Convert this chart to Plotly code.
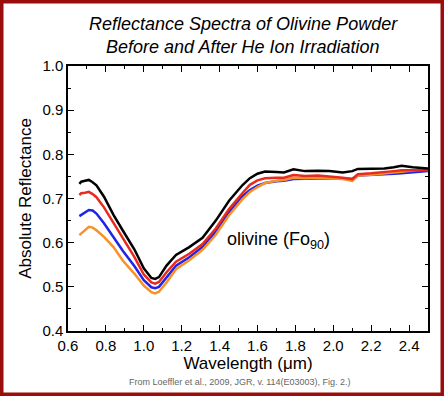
import plotly.graph_objects as go

wavelength = [0.66, 0.67, 0.69, 0.71, 0.73, 0.75, 0.79, 0.84, 0.89, 0.95, 1.00, 1.04, 1.06, 1.08,
              1.12, 1.17, 1.24, 1.31, 1.38, 1.45, 1.52, 1.56, 1.60, 1.64, 1.70, 1.74, 1.79, 1.85,
              1.92, 1.98, 2.05, 2.10, 2.13, 2.20, 2.27, 2.32, 2.36, 2.42, 2.50]

black = [0.733, 0.738, 0.740, 0.742, 0.737, 0.730, 0.704, 0.663, 0.627, 0.585, 0.542, 0.520, 0.518, 0.522,
         0.548, 0.572, 0.590, 0.611, 0.650, 0.695, 0.730, 0.746, 0.756, 0.761, 0.760, 0.759, 0.766, 0.762,
         0.763, 0.762, 0.759, 0.762, 0.767, 0.767, 0.768, 0.771, 0.774, 0.771, 0.768]

red = [0.708, 0.712, 0.713, 0.715, 0.710, 0.703, 0.680, 0.645, 0.608, 0.568, 0.528, 0.510, 0.507, 0.511,
       0.533, 0.557, 0.575, 0.597, 0.632, 0.676, 0.712, 0.731, 0.741, 0.746, 0.747, 0.747, 0.753, 0.751,
       0.752, 0.750, 0.747, 0.744, 0.755, 0.757, 0.759, 0.762, 0.764, 0.764, 0.764]

blue = [0.660, 0.663, 0.668, 0.674, 0.673, 0.666, 0.644, 0.612, 0.581, 0.547, 0.515, 0.499, 0.497, 0.500,
        0.521, 0.548, 0.567, 0.590, 0.625, 0.669, 0.705, 0.719, 0.729, 0.735, 0.739, 0.740, 0.744, 0.745,
        0.746, 0.746, 0.745, 0.744, 0.752, 0.753, 0.755, 0.756, 0.757, 0.759, 0.762]

orange = [0.617, 0.621, 0.628, 0.636, 0.634, 0.628, 0.613, 0.590, 0.559, 0.530, 0.503, 0.488, 0.485, 0.489,
          0.510, 0.540, 0.560, 0.584, 0.618, 0.662, 0.698, 0.715, 0.726, 0.735, 0.740, 0.742, 0.747, 0.746,
          0.747, 0.746, 0.744, 0.740, 0.752, 0.754, 0.757, 0.759, 0.761, 0.763, 0.767]

title_lines = ["Reflectance Spectra of Olivine Powder", "Before and After He Ion Irradiation"]
caption = "From Loeffler et al., 2009, JGR, v. 114(E03003), Fig. 2.)"

series = [("blue", blue, "#1f24e6"), ("orange", orange, "#f7922b"),
          ("red", red, "#e82a1f"), ("black", black, "#000000")]

FONT = "Arial, Liberation Sans, sans-serif"

fig = go.Figure()
for name, vals, col in series:
    fig.add_trace(go.Scatter(x=wavelength, y=vals, mode="lines", name=name,
                             line=dict(color=col, width=2.5), showlegend=False))

axis_common = dict(showline=True, linecolor="black", linewidth=1.5, mirror="ticks",
                   ticks="inside", ticklen=6, tickwidth=1.2, tickcolor="black",
                   showgrid=False, zeroline=False,
                   tickfont=dict(family=FONT, size=15, color="black"))

fig.update_xaxes(range=[0.6, 2.5], tick0=0.6, dtick=0.2, tickformat=".1f",
                 minor=dict(ticks="inside", ticklen=3, dtick=0.1, tick0=0.6, tickcolor="black"),
                 title=dict(text="Wavelength (μm)", standoff=4,
                            font=dict(family=FONT, size=17, color="black")),
                 **axis_common)
fig.update_yaxes(range=[0.4, 1.0], tick0=0.4, dtick=0.1, tickformat=".1f",
                 minor=dict(ticks="inside", ticklen=3, dtick=0.05, tick0=0.4, tickcolor="black"),
                 title=dict(text="Absolute Reflectance", standoff=6,
                            font=dict(family=FONT, size=17, color="black")),
                 **axis_common)

pw, ph = 360, 265  # plot-area size in pixels (for paper-coordinate placement)

fig.add_annotation(x=1.43, y=0.606, xref="x", yref="y", xanchor="left", yanchor="middle",
                   text="olivine (Fo<sub>90</sub>)", showarrow=False,
                   font=dict(family=FONT, size=18, color="black"))

for line_text, ypix in zip(title_lines, [24, 47]):
    fig.add_annotation(x=(243 - 68) / pw, y=(331 - ypix) / ph, xref="paper", yref="paper",
                       text=line_text, showarrow=False, xanchor="center", yanchor="middle",
                       font=dict(family=FONT, size=18, color="black", style="italic"))

fig.add_annotation(x=(240 - 68) / pw, y=(331 - 382) / ph, xref="paper", yref="paper",
                   text=caption, showarrow=False, xanchor="center", yanchor="middle",
                   font=dict(family=FONT, size=9, color="#666666"))

# outer dark red frame around the whole picture
fig.add_shape(type="rect", xref="paper", yref="paper",
              x0=(1.5 - 68) / pw, x1=(442.5 - 68) / pw,
              y0=(331 - 394.5) / ph, y1=(331 - 1.5) / ph,
              line=dict(color="#9a0d0d", width=4), fillcolor="rgba(0,0,0,0)", layer="above")

fig.update_layout(
    width=444, height=396,
    margin=dict(l=68, r=16, t=66, b=65),
    paper_bgcolor="white", plot_bgcolor="white",
)

fig.write_html("out.html", config={"displayModeBar": False},
               post_script="document.body.style.margin='0';document.body.style.overflow='hidden';")
